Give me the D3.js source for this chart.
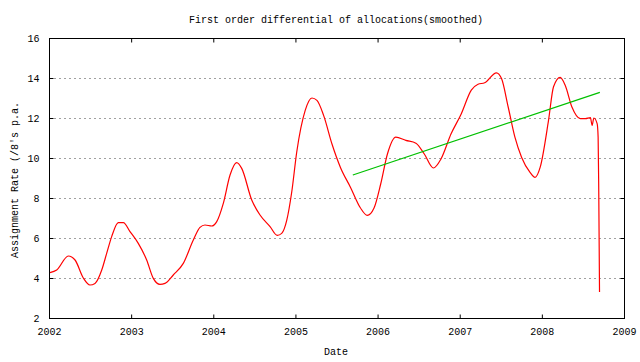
<!DOCTYPE html>
<html>
<head>
<meta charset="utf-8">
<script src="https://cdn.jsdelivr.net/npm/d3@7"></script>
<style>
  body { margin: 0; background: #fff; }
  text { font-family: "Liberation Mono", "DejaVu Sans Mono", monospace; font-size: 10px; fill: #000; }
</style>
</head>
<body>
<div id="root"></div>
<script>
var config = {
  chartWidth: 640,
  chartHeight: 362,
  left: 49,
  right: 624,
  top: 38,
  bottom: 318
};

// smoothed rate, dates as decimal years
const rateDates = [
  2002.012, 2002.094, 2002.235, 2002.317, 2002.418, 2002.499, 2002.560, 2002.642,
  2002.702, 2002.763, 2002.844, 2002.905, 2002.986, 2003.087, 2003.189, 2003.270,
  2003.351, 2003.412, 2003.513, 2003.635, 2003.757, 2003.838, 2003.899, 2003.981,
  2004.042, 2004.122, 2004.204, 2004.285, 2004.346, 2004.468, 2004.569, 2004.691,
  2004.779, 2004.833, 2004.894, 2004.955, 2005.016, 2005.119, 2005.201, 2005.262,
  2005.343, 2005.445, 2005.548, 2005.671, 2005.792, 2005.874, 2005.957, 2006.038,
  2006.120, 2006.222, 2006.344, 2006.467, 2006.569, 2006.680, 2006.772, 2006.895,
  2007.018, 2007.141, 2007.223, 2007.304, 2007.447, 2007.509, 2007.590, 2007.672,
  2007.754, 2007.856, 2007.917, 2007.979, 2008.081, 2008.142, 2008.223, 2008.284,
  2008.366, 2008.468, 2008.530, 2008.591, 2008.612, 2008.633, 2008.673, 2008.685,
  2008.693, 2008.702
];
const rateValues = [
  4.27, 4.40, 5.10, 4.90, 4.00, 3.65, 3.73, 4.40,
  5.23, 6.07, 6.77, 6.77, 6.32, 5.73, 4.90, 3.98,
  3.68, 3.73, 4.15, 4.73, 5.90, 6.53, 6.65, 6.60,
  6.82, 7.73, 9.15, 9.77, 9.48, 7.90, 7.15, 6.57,
  6.13, 6.23, 6.88, 8.30, 10.30, 12.38, 13.00, 12.88,
  12.13, 10.70, 9.53, 8.53, 7.50, 7.13, 7.50, 8.70,
  10.20, 11.04, 10.88, 10.74, 10.20, 9.50, 9.95, 11.21,
  12.20, 13.39, 13.69, 13.76, 14.26, 13.97, 12.55, 11.04,
  10.03, 9.28, 9.03, 9.53, 11.88, 13.56, 14.03, 13.64,
  12.55, 11.97, 11.97, 12.02, 11.63, 12.00, 11.72, 11.05,
  8.20, 3.30
];

// linear trend
const trendDates = [2005.699, 2008.706];
const trendValues = [9.15, 13.28];

const xTicks = [2002, 2003, 2004, 2005, 2006, 2007, 2008, 2009];
const yTicks = [2, 4, 6, 8, 10, 12, 14, 16];
const gridValues = [4, 6, 8, 10, 12, 14];

const chart = d3.select('#root')
  .append('svg:svg')
  .attr('width', config.chartWidth)
  .attr('height', config.chartHeight);

const x = d3.scaleLinear().domain([2002, 2009]).range([config.left, config.right]);
const y = d3.scaleLinear().domain([2, 16]).range([config.bottom, config.top]);

// grid
chart.append('g').selectAll('line')
  .data(gridValues)
  .enter()
    .append('line')
    .attr('x1', config.left)
    .attr('x2', config.right)
    .attr('y1', d => Math.round(y(d)) + 0.5)
    .attr('y2', d => Math.round(y(d)) + 0.5)
    .attr('stroke', '#a0a0a0')
    .attr('stroke-dasharray', '2,3');

// axes, ticks drawn inward on all four sides
const tickLen = 4;
chart.append('g')
  .attr('transform', `translate(0,${config.bottom + 0.5})`)
  .call(d3.axisBottom(x).tickValues(xTicks).tickFormat(d3.format('d')).tickSizeInner(-tickLen).tickSizeOuter(0).tickPadding(9))
  .call(g => g.select('.domain').remove());
chart.append('g')
  .attr('transform', `translate(0,${config.top + 0.5})`)
  .call(d3.axisTop(x).tickValues(xTicks.slice(1, -1)).tickFormat('').tickSizeInner(-tickLen).tickSizeOuter(0))
  .call(g => g.select('.domain').remove());
chart.append('g')
  .attr('transform', `translate(${config.left + 0.5},0)`)
  .call(d3.axisLeft(y).tickValues(yTicks).tickFormat(d3.format('d')).tickSizeInner(-tickLen).tickSizeOuter(0).tickPadding(10))
  .call(g => g.select('.domain').remove());
chart.append('g')
  .attr('transform', `translate(${config.right + 0.5},0)`)
  .call(d3.axisRight(y).tickValues(yTicks.slice(1, -1)).tickFormat('').tickSizeInner(-tickLen).tickSizeOuter(0))
  .call(g => g.select('.domain').remove());

chart.selectAll('.tick text').attr('font-family', null).attr('font-size', null);
chart.selectAll('.tick line').attr('stroke', '#000');

// frame
chart.append('rect')
  .attr('x', config.left + 0.5)
  .attr('y', config.top + 0.5)
  .attr('width', config.right - config.left)
  .attr('height', config.bottom - config.top)
  .attr('fill', 'none')
  .attr('stroke', '#000');

// series
const rate = rateDates.map((d, i) => [d, rateValues[i]]);
const trend = trendDates.map((d, i) => [d, trendValues[i]]);

chart.append('path')
  .datum(rate)
  .attr('d', d3.line().x(d => x(d[0])).y(d => y(d[1])).curve(d3.curveMonotoneX))
  .attr('fill', 'none')
  .attr('stroke', '#ff0000')
  .attr('stroke-width', 1.2);

chart.append('path')
  .datum(trend)
  .attr('d', d3.line().x(d => x(d[0])).y(d => y(d[1])))
  .attr('fill', 'none')
  .attr('stroke', '#00c000')
  .attr('stroke-width', 1.2);

// labels
chart.append('text')
  .attr('x', 336)
  .attr('y', 23)
  .attr('text-anchor', 'middle')
  .text('First order differential of allocations(smoothed)');

chart.append('text')
  .attr('x', 336)
  .attr('y', 355)
  .attr('text-anchor', 'middle')
  .text('Date');

chart.append('text')
  .attr('transform', 'translate(18,180) rotate(-90)')
  .attr('text-anchor', 'middle')
  .text("Assignment Rate (/8's p.a.");
</script>
</body>
</html>
